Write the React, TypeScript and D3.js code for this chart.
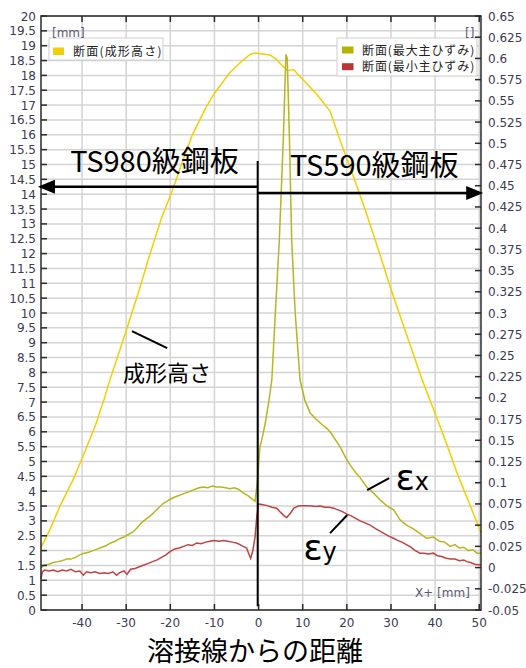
import React from 'react';
import * as d3 from 'd3';

// 成形高さ [mm] (left axis)
const heightData: [number, number][] = [
  [-49.3, 2.1], [-47, 2.8], [-45, 3.5], [-42, 4.4], [-40, 5.1], [-37, 6.2], [-35, 7.1],
  [-33.7, 7.74], [-30, 9.4], [-27, 10.8], [-25, 11.8], [-22, 13.2], [-19.6, 14.1],
  [-17, 15.2], [-15, 16.0], [-12, 16.9], [-10, 17.4], [-8, 17.8], [-6.5, 18.1], [-4, 18.45],
  [-2, 18.7], [-0.8, 18.75], [1, 18.72], [2.6, 18.69], [4, 18.55], [4.9, 18.4], [6.5, 18.16],
  [7.9, 18.2], [10.1, 17.85], [13, 17.4], [16.2, 16.8], [18.5, 15.8], [21, 14.8], [24.1, 13.5],
  [27, 12.2], [30, 10.8], [33, 9.5], [37.1, 7.74], [40.2, 6.54], [42.3, 5.72], [45, 4.6],
  [48, 3.5], [50.4, 2.6],
];

// 最大主ひずみ (right axis)
const strainMax: [number, number][] = [
  [-49.3, 0.0], [-48.5, 0.003], [-47.5, 0.004], [-46.5, 0.006], [-45.5, 0.007], [-44.5, 0.008],
  [-43.5, 0.01], [-42.5, 0.01], [-41.5, 0.012], [-40.5, 0.015], [-39.5, 0.017], [-38.5, 0.018],
  [-37.5, 0.02], [-36.5, 0.022], [-35.5, 0.024], [-34.5, 0.026], [-33.5, 0.029], [-32.5, 0.031],
  [-31.5, 0.034], [-30.5, 0.036], [-29.5, 0.039], [-28.5, 0.042], [-27.5, 0.047], [-26.5, 0.053],
  [-25.5, 0.057], [-24.5, 0.061], [-23.5, 0.066], [-22.5, 0.071], [-21.5, 0.076], [-20.5, 0.079],
  [-19.5, 0.082], [-18.5, 0.084], [-17.5, 0.086], [-16.5, 0.088], [-15.5, 0.09], [-14.5, 0.092],
  [-13.5, 0.094], [-12.5, 0.095], [-11.5, 0.094], [-10.5, 0.096], [-9.5, 0.095], [-8.5, 0.095],
  [-7.5, 0.094], [-6.5, 0.093], [-5.5, 0.094], [-4.5, 0.092], [-3.5, 0.088], [-2.5, 0.085],
  [-1.5, 0.081], [-0.8, 0.078], [-0.3, 0.1], [0.3, 0.142], [0.7, 0.15], [1.5, 0.17], [2.3, 0.195],
  [3.0, 0.221], [3.8, 0.3], [4.7, 0.386], [5.6, 0.504], [6.2, 0.605], [6.5, 0.6], [7.0, 0.504],
  [7.5, 0.386], [8.3, 0.3], [9.4, 0.221], [10.5, 0.197], [11.7, 0.182], [13, 0.175], [14.5, 0.168],
  [15.5, 0.164], [16.5, 0.158], [17.5, 0.15], [18.5, 0.142], [19.3, 0.134], [20, 0.127], [21, 0.119],
  [22, 0.112], [23, 0.106], [24.5, 0.095], [26, 0.088], [27.5, 0.08], [29, 0.073], [30.6, 0.068],
  [32.1, 0.056], [33.5, 0.05], [35, 0.046], [36.6, 0.04], [38.1, 0.0345], [39.6, 0.036], [41, 0.031],
  [42.2, 0.03], [43.4, 0.025], [44.5, 0.027], [45.5, 0.023], [46.5, 0.024], [47.5, 0.02],
  [48.6, 0.021], [49.5, 0.017], [50.4, 0.017],
];

// 最小主ひずみ (right axis)
const strainMin: [number, number][] = [
  [-49.3, -0.013], [-49, -0.005], [-48.5, -0.003], [-47.5, -0.004], [-46.5, -0.003], [-45.5, -0.005],
  [-44.5, -0.003], [-43.5, -0.004], [-42.5, -0.002], [-41.5, -0.005], [-40.5, -0.004], [-39.7, -0.009],
  [-39, -0.005], [-38, -0.006], [-37, -0.005], [-36, -0.007], [-35, -0.006], [-34, -0.007],
  [-33, -0.005], [-32.2, -0.009], [-31.5, -0.006], [-30.5, -0.004], [-29.8, -0.008], [-29, -0.002],
  [-28, -0.001], [-27, 0.001], [-26, 0.003], [-25, 0.005], [-24, 0.007], [-23, 0.009], [-22, 0.012],
  [-21, 0.015], [-20, 0.019], [-19, 0.022], [-18, 0.023], [-17, 0.025], [-16, 0.027], [-15, 0.026],
  [-14, 0.029], [-13, 0.028], [-12, 0.03], [-11, 0.031], [-10, 0.032], [-9, 0.031], [-8, 0.032],
  [-7, 0.031], [-6, 0.03], [-5, 0.029], [-4.2, 0.027], [-3.5, 0.025], [-2.7, 0.023], [-2.2, 0.016],
  [-1.8, 0.011], [-1.3, 0.02], [-0.8, 0.036], [-0.4, 0.06], [0, 0.075], [1, 0.074], [2, 0.073],
  [3, 0.071], [4.1, 0.07], [5, 0.065], [5.8, 0.061], [6.4, 0.059], [7.2, 0.064], [8, 0.07],
  [9, 0.0726], [10, 0.073], [11, 0.073], [12, 0.0725], [13, 0.072], [14, 0.0726], [15, 0.071],
  [16, 0.071], [17, 0.07], [18, 0.068], [19, 0.066], [20, 0.063], [21, 0.061], [22, 0.058],
  [23, 0.055], [24, 0.053], [25.3, 0.05], [26.5, 0.046], [27.5, 0.043], [28.5, 0.04], [29.5, 0.037],
  [30.6, 0.0345], [31.5, 0.032], [32.5, 0.03], [33.5, 0.027], [34.5, 0.024], [35.5, 0.02],
  [36.6, 0.017], [37.5, 0.017], [38.5, 0.016], [39.6, 0.017], [40.5, 0.014], [41.5, 0.013],
  [42.5, 0.011], [43.5, 0.01], [44.5, 0.01], [45.5, 0.008], [46.5, 0.009], [47.2, 0.007],
  [48, 0.006], [49, 0.004], [50.4, 0.003],
];

const xTicks = [-40, -30, -20, -10, 0, 10, 20, 30, 40, 50];
const leftTicks = d3.range(0, 41).map((i) => i * 0.5);
const rightTicks = d3.range(0, 29).map((i) => +(-0.05 + i * 0.025).toFixed(3));

const legendLeft = [{ name: '断面(成形高さ)', color: '#f2cf00' }];
const legendRight = [
  { name: '断面(最大主ひずみ)', color: '#b5b300' },
  { name: '断面(最小主ひずみ)', color: '#b83636' },
];

const W = 526;
const H = 668;
const L = 41;
const R = 481;
const T = 16;
const B = 610;

const tickFont = 'DejaVu Sans, Verdana, sans-serif';
const jpFont = '"Noto Sans CJK JP", "Noto Sans", sans-serif';
const tickColor = '#3b3b55';

export default function App() {
  const x = d3.scaleLinear().domain([-49.3, 50.4]).range([L, R]);
  const yL = d3.scaleLinear().domain([0, 20]).range([B, T]);
  const yR = d3.scaleLinear().domain([-0.05, 0.65]).range([B, T]);

  const heightLine = d3.line<[number, number]>().x((d) => x(d[0])).y((d) => yL(d[1]));
  const strainLine = d3.line<[number, number]>().x((d) => x(d[0])).y((d) => yR(d[1]));

  const wx = x(-0.2);
  const arrowLY = yL(14.25);
  const arrowRY = yL(14.04);
  const tipL = x(-50.0);
  const tipR = x(50.9);

  return (
    <svg width={W} height={H} style={{ position: 'absolute', left: 0, top: 0, background: '#fff' }}>
      {/* grid */}
      <g stroke="#d4d4d4" strokeWidth={1.5}>
        {leftTicks.map((v) => (
          <line key={`h${v}`} x1={L} x2={R} y1={yL(v)} y2={yL(v)} />
        ))}
        {xTicks.map((v) => (
          <line key={`v${v}`} x1={x(v)} x2={x(v)} y1={T} y2={B} />
        ))}
      </g>

      {/* series */}
      <path d={heightLine(heightData) ?? ''} fill="none" stroke="#f2cf00" strokeWidth={1.5} />
      <path d={strainLine(strainMax) ?? ''} fill="none" stroke="#b8b520" strokeWidth={1.5} />
      <path d={strainLine(strainMin) ?? ''} fill="none" stroke="#c04242" strokeWidth={1.5} />

      {/* legends */}
      <rect x={49} y={38} width={114} height={22} fill="#fff" stroke="#cfcfcf" />
      {legendLeft.map((d, i) => (
        <g key={d.name} transform={`translate(53,${47.5 + i * 17})`}>
          <rect width={11} height={7.5} fill={d.color} />
          <text x={20} y={8} fontSize={12} letterSpacing={1.2} fontFamily={jpFont} fill="#222">{d.name}</text>
        </g>
      ))}
      <rect x={337} y={38} width={140} height={38} fill="#fff" stroke="#cfcfcf" />
      {legendRight.map((d, i) => (
        <g key={d.name} transform={`translate(342,${46.5 + i * 16.7})`}>
          <rect width={11.5} height={7} fill={d.color} />
          <text x={20} y={8} fontSize={12} letterSpacing={0.9} fontFamily={jpFont} fill="#222">{d.name}</text>
        </g>
      ))}

      {/* frame & axes */}
      <g stroke="#2a2a2a" strokeWidth={1.5}>
        <rect x={L} y={T} width={R - L} height={B - T} fill="none" />
        {leftTicks.map((v) => (
          <line key={`lt${v}`} x1={L} x2={L + 6} y1={yL(v)} y2={yL(v)} />
        ))}
        {rightTicks.map((v) => (
          <line key={`rt${v}`} x1={R - 6} x2={R} y1={yR(v)} y2={yR(v)} />
        ))}
        {xTicks.map((v) => (
          <g key={`xt${v}`}>
            <line x1={x(v)} x2={x(v)} y1={T} y2={T + 6} />
            <line x1={x(v)} x2={x(v)} y1={B - 6} y2={B} />
          </g>
        ))}
      </g>
      <g fontFamily={tickFont} fontSize={12} fill={tickColor}>
        {leftTicks.map((v) => (
          <text key={`ll${v}`} x={36} y={yL(v) + 4.5} textAnchor="end">{String(+v.toFixed(1))}</text>
        ))}
        {rightTicks.map((v) => (
          <text key={`rl${v}`} x={488} y={yR(v) + 4.5}>{String(v)}</text>
        ))}
        {xTicks.map((v) => (
          <text key={`xl${v}`} x={x(v)} y={627} textAnchor="middle">{String(v)}</text>
        ))}
        <text x={52} y={37} fill="#5a5a78">[mm]</text>
        <text x={465} y={37} fill="#5a5a78">[]</text>
        <text x={415} y={597} fill="#5a5a78">X+ [mm]</text>
      </g>

      {/* annotations */}
      <g stroke="#000" strokeWidth={2}>
        <line x1={wx} x2={wx} y1={yL(15.12)} y2={yL(0.13)} />
        <line x1={wx} x2={tipL + 14} y1={arrowLY} y2={arrowLY} strokeWidth={2.5} />
        <line x1={wx} x2={tipR - 14} y1={arrowRY} y2={arrowRY} strokeWidth={2.5} />
        <line x1={x(-28.7)} y1={yL(9.39)} x2={x(-20.7)} y2={yL(8.82)} />
        <line x1={x(24.6)} y1={yL(4.04)} x2={x(29.6)} y2={yL(4.44)} />
        <line x1={x(16.2)} y1={yL(2.59)} x2={x(20.1)} y2={yL(3.2)} />
      </g>
      <path d={`M${tipL},${arrowLY} L${tipL + 17},${arrowLY - 7} L${tipL + 17},${arrowLY + 7} Z`} fill="#000" />
      <path d={`M${tipR},${arrowRY} L${tipR - 17},${arrowRY - 7} L${tipR - 17},${arrowRY + 7} Z`} fill="#000" />

      <g fontFamily={jpFont} fill="#000">
        <text x={x(-42.7)} y={yL(14.75)} fontSize={29}>TS980級鋼板</text>
        <text x={x(7.1)} y={yL(14.61)} fontSize={29}>TS590級鋼板</text>
        <text x={x(-30.7)} y={yL(7.7)} fontSize={22}>成形高さ</text>
        <text x={x(31)} y={yL(4.04)}>
          <tspan fontSize={36} fontFamily={tickFont}>ε</tspan>
          <tspan fontSize={24} fontFamily={tickFont}>x</tspan>
        </text>
        <text x={x(10.1)} y={yL(1.68)}>
          <tspan fontSize={36} fontFamily={tickFont}>ε</tspan>
          <tspan fontSize={24} fontFamily={tickFont}>y</tspan>
        </text>
        <text x={255} y={661} fontSize={27} textAnchor="middle">溶接線からの距離</text>
      </g>
    </svg>
  );
}
